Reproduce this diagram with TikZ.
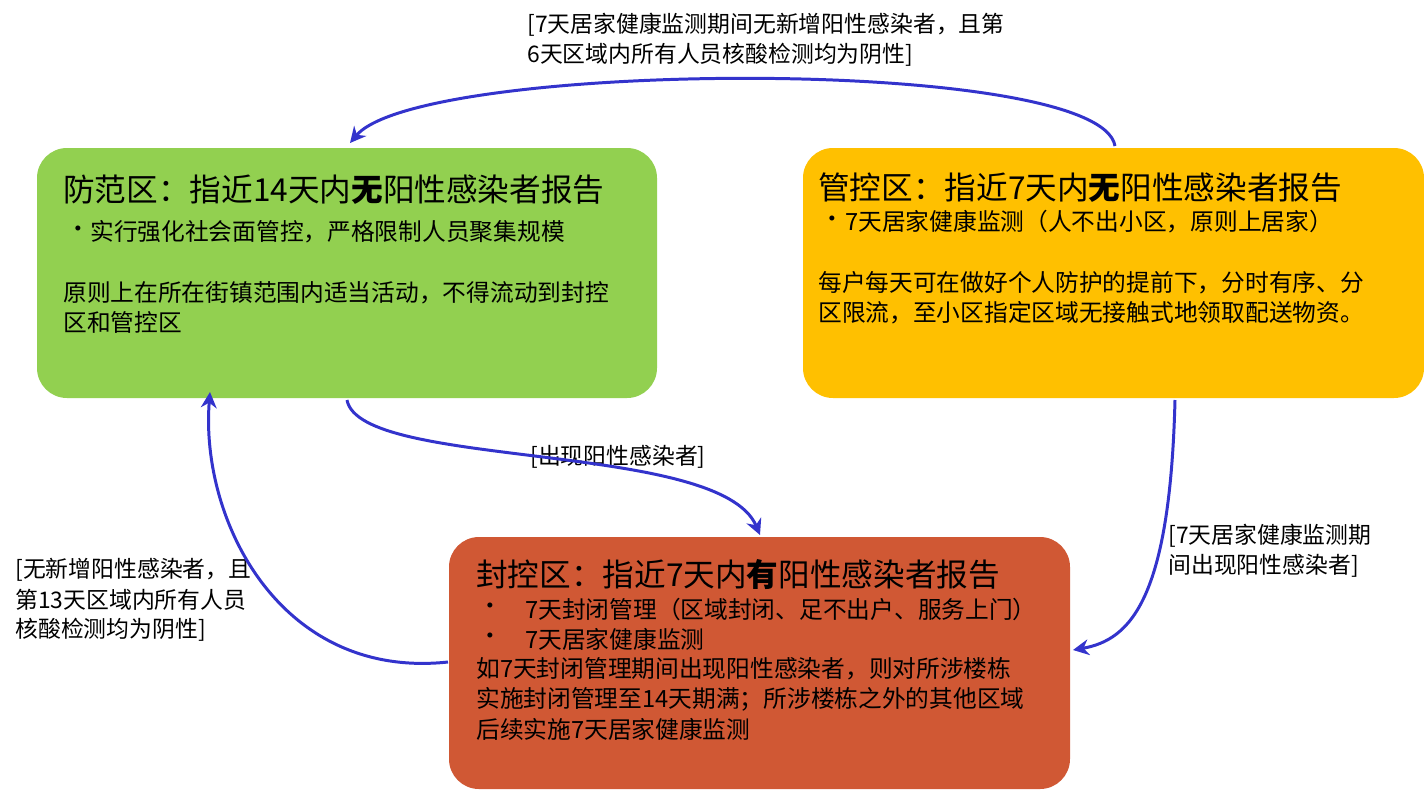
\documentclass[tikz,border=0pt]{standalone}
\usepackage{fontspec}
\setmainfont{Noto Sans CJK SC}
\usetikzlibrary{arrows.meta}
\definecolor{gbox}{RGB}{146,208,80}
\definecolor{ybox}{RGB}{255,192,0}
\definecolor{obox}{RGB}{208,88,52}
\definecolor{arr}{RGB}{51,51,204}
\begin{document}
\begin{tikzpicture}[x=0.02cm,y=-0.02cm,
  box/.style={rounded corners=0.6cm},
  ttl/.style={anchor=west,inner sep=0,font=\fontsize{18}{20}\selectfont},
  txt/.style={anchor=west,inner sep=0,font=\fontsize{13.5}{16}\selectfont},
  lbl/.style={anchor=west,inner sep=0,font=\fontsize{13}{16}\selectfont},
  conn/.style={draw=arr,line width=1.7pt,-{Stealth[length=9pt,width=9pt]}}]
\useasboundingbox (0,0) rectangle (1424,789);
\fill[gbox,box] (37,148) rectangle (657,398);
\fill[ybox,box] (803,148) rectangle (1424,398);
\fill[obox,box] (449,537) rectangle (1070,789);
% green
\node[ttl] (g1) at (63,190) {防范区：指近14天内\textbf{无}阳性感染者报告};
\node[txt] (g2) at (66,232) {•};
\node[txt] (g3) at (90,232) {实行强化社会面管控，严格限制人员聚集规模};
\node[txt] (g4) at (63,293) {原则上在所在街镇范围内适当活动，不得流动到封控};
\node[txt] (g5) at (63,322) {区和管控区};
% yellow
\node[ttl] (y1) at (818,188) {管控区：指近7天内\textbf{无}阳性感染者报告};
\node[txt] (y2) at (820,222) {•};
\node[txt] (y3) at (845,222) {7天居家健康监测（人不出小区，原则上居家）};
\node[txt] (y4) at (818,283) {每户每天可在做好个人防护的提前下，分时有序、分};
\node[txt] (y5) at (818,313) {区限流，至小区指定区域无接触式地领取配送物资。};
% orange
\node[ttl] (o1) at (476,574) {封控区：指近7天内\textbf{有}阳性感染者报告};
\node[txt] (o2) at (478,609) {•};
\node[txt] (o3) at (525,609) {7天封闭管理（区域封闭、足不出户、服务上门）};
\node[txt] (o4) at (478,639) {•};
\node[txt] (o5) at (525,639) {7天居家健康监测};
\node[txt] (o6) at (476,669) {如7天封闭管理期间出现阳性感染者，则对所涉楼栋};
\node[txt] (o7) at (476,699) {实施封闭管理至14天期满；所涉楼栋之外的其他区域};
\node[txt] (o8) at (476,729) {后续实施7天居家健康监测};
% labels
\node[lbl] (l1) at (527,25) {[7天居家健康监测期间无新增阳性感染者，且第};
\node[lbl] (l2) at (527,55) {6天区域内所有人员核酸检测均为阴性]};
\node[lbl] (l3) at (530,457) {[出现阳性感染者]};
\node[lbl] (l4) at (1168,536) {[7天居家健康监测期};
\node[lbl] (l5) at (1168,566) {间出现阳性感染者]};
\node[lbl] (l6) at (15,570) {[无新增阳性感染者，且};
\node[lbl] (l7) at (15,600) {第13天区域内所有人员};
\node[lbl] (l8) at (15,630) {核酸检测均为阴性]};
% connectors
\coordinate (ya) at (1115,146);
\coordinate (gt) at (350,143);
\coordinate (gb) at (347,400);
\coordinate (ot) at (760,535);
\coordinate (yb) at (1175,400);
\coordinate (or) at (1073,650);
\coordinate (ol) at (448,662);
\coordinate (gb2) at (210,392);
\draw[conn] (ya) .. controls (1100,55) and (420,60) .. (gt);
\draw[conn] (gb) .. controls (360,470) and (720,440) .. (ot);
\draw[conn] (yb) .. controls (1170,600) and (1130,640) .. (or);
\draw[conn] (ol) .. controls (280,680) and (200,520) .. (gb2);
\end{tikzpicture}
\end{document}
